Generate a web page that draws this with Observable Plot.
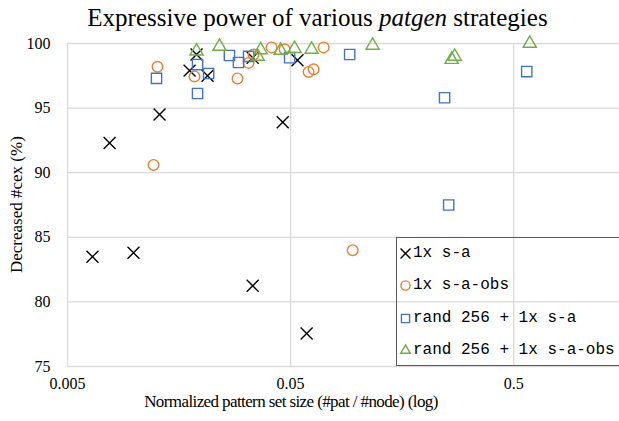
<!DOCTYPE html>
<html><head><meta charset="utf-8">
<script src="https://cdn.jsdelivr.net/npm/d3@7"></script>
<script src="https://cdn.jsdelivr.net/npm/@observablehq/plot@0.6"></script>
<style>
body{margin:0;background:#fff;}
#wrap{position:relative;width:619px;height:421px;overflow:hidden;background:#fff;}
#title{height:36px;line-height:36px;font-family:"Liberation Serif",serif;font-size:25px;text-align:center;position:relative;left:8px;white-space:nowrap;color:#000;}
#legend{position:absolute;left:396px;top:237px;width:240px;height:127px;border:1.5px solid #595959;font-family:"Liberation Mono",monospace;font-size:16px;color:#000;}
.row{position:absolute;left:3px;height:20px;display:flex;align-items:center;white-space:pre;}
.row svg{margin-right:2px;overflow:visible;}
#chart svg{overflow:visible;}
#ylabel{position:absolute;left:0;top:43px;width:33px;height:323px;display:flex;align-items:center;justify-content:center;writing-mode:vertical-rl;transform:rotate(180deg);font-family:"Liberation Serif",serif;font-size:17px;color:#000;white-space:nowrap;}
#xlabel{position:absolute;left:0;top:392px;width:582px;height:20px;line-height:20px;text-align:center;font-family:"Liberation Serif",serif;font-size:17px;letter-spacing:-0.6px;color:#000;white-space:nowrap;}
</style></head>
<body>
<div id="wrap">
  <div id="title">Expressive power of various <i>patgen</i> strategies</div>
  <div id="chart"></div>
  <div id="ylabel"></div>
  <div id="xlabel"></div>
  <div id="legend"></div>
</div>
<script>
// ---- data ----
const seriesNames = ["1x s-a", "1x s-a-obs", "rand 256 + 1x s-a", "rand 256 + 1x s-a-obs"];

const saX = [0.00647, 0.00988, 0.00772, 0.01293, 0.01763, 0.01894, 0.02122, 0.0338, 0.0461, 0.0537, 0.0338, 0.0590];
const saY = [83.5, 83.8, 92.3, 94.5, 97.9, 99.15, 97.5, 98.9, 93.9, 98.7, 81.25, 77.55];

const saObsX = [0.01266, 0.01215, 0.01855, 0.0289, 0.0324, 0.0341, 0.0411, 0.0470, 0.0602, 0.0634, 0.0703, 0.0949];
const saObsY = [98.2, 90.6, 97.45, 97.3, 98.5, 99.15, 99.7, 99.55, 97.8, 98.0, 99.7, 84.0];

const randSaX = [0.01253, 0.01914, 0.01914, 0.02145, 0.0266, 0.0292, 0.0324, 0.0495, 0.0920, 0.245, 0.2556, 0.572];
const randSaY = [97.3, 98.37, 96.13, 97.68, 99.07, 98.53, 99.0, 98.9, 99.15, 95.8, 87.5, 97.83];

const randSaObsX = [0.01894, 0.0240, 0.0356, 0.0367, 0.0451, 0.0521, 0.0621, 0.1166, 0.2635, 0.272, 0.590];
const randSaObsY = [99.4, 99.77, 99.0, 99.5, 99.46, 99.6, 99.54, 99.85, 98.76, 99.0, 100.0];

const xTicks = [0.005, 0.05, 0.5];
const xTickLabels = ["0.005", "0.05", "0.5"];
const yTicks = [75, 80, 85, 90, 95, 100];
const yTickLabels = ["75", "80", "85", "90", "95", "100"];
const xLabel = "Normalized pattern set size (#pat / #node) (log)";
const yLabel = "Decreased #cex (%)";

// ---- styles ----
const symbols = ["times", "circle", "square", "triangle"];
const colors = ["#000000", "#ED7D31", "#4472C4", "#70AD47"];
const radii = [5.5, 5.3, 5.8, 4.9];

const toRows = (xs, ys) => xs.map((x, i) => ({x, y: ys[i]}));
const series = [toRows(saX, saY), toRows(saObsX, saObsY), toRows(randSaX, randSaY), toRows(randSaObsX, randSaObsY)];

const serif = "'Liberation Serif', 'Times New Roman', serif";

const chart = Plot.plot({
  width: 619,
  height: 385,
  marginTop: 7,
  marginBottom: 55,
  marginLeft: 67,
  marginRight: 0,
  style: {fontFamily: serif, fontSize: "16px", background: "transparent", color: "#000"},
  x: {type: "log", domain: [0.005, 1.49], axis: null},
  y: {domain: [75, 100]},
  marks: [
    Plot.gridX(xTicks, {stroke: "#d9d9d9", strokeOpacity: 1, strokeWidth: 1.3}),
    Plot.gridY(yTicks, {stroke: "#d9d9d9", strokeOpacity: 1, strokeWidth: 1.3}),
    Plot.text(xTicks, {x: d => d, text: (d, i) => xTickLabels[i], frameAnchor: "bottom", lineAnchor: "top",
      dy: 11, fontSize: 16, fill: "#000", fontFamily: serif}),
    Plot.axisY(yTicks, {tickSize: 0, tickPadding: 17, label: null, fontSize: 16, fill: "#000",
      tickFormat: d => yTickLabels[yTicks.indexOf(d)]}),
    ...series.map((rows, k) => Plot.dot(rows, {
      x: "x", y: "y", symbol: symbols[k], r: radii[k], stroke: colors[k], fill: "none", strokeWidth: 1.4
    }))
  ]
});
document.getElementById("chart").appendChild(chart);
document.getElementById("xlabel").textContent = xLabel;
document.getElementById("ylabel").textContent = yLabel;

// ---- legend ----
const legend = document.getElementById("legend");
const rowTops = [5, 37, 70, 102];
const symMap = {times: d3.symbolTimes, circle: d3.symbolCircle, square: d3.symbolSquare, triangle: d3.symbolTriangle2};
seriesNames.forEach((name, k) => {
  const row = document.createElement("div");
  row.className = "row";
  row.style.top = rowTops[k] + "px";
  const svg = d3.create("svg").attr("width", 11).attr("height", 11).attr("viewBox", "-5.5 -5.5 11 11");
  svg.append("path")
    .attr("d", d3.symbol(symMap[symbols[k]], Math.PI * 4.6 * 4.6)())
    .attr("fill", "none").attr("stroke", colors[k]).attr("stroke-width", 1.4);
  row.appendChild(svg.node());
  const span = document.createElement("span");
  span.textContent = name;
  row.appendChild(span);
  legend.appendChild(row);
});
</script>
</body></html>
